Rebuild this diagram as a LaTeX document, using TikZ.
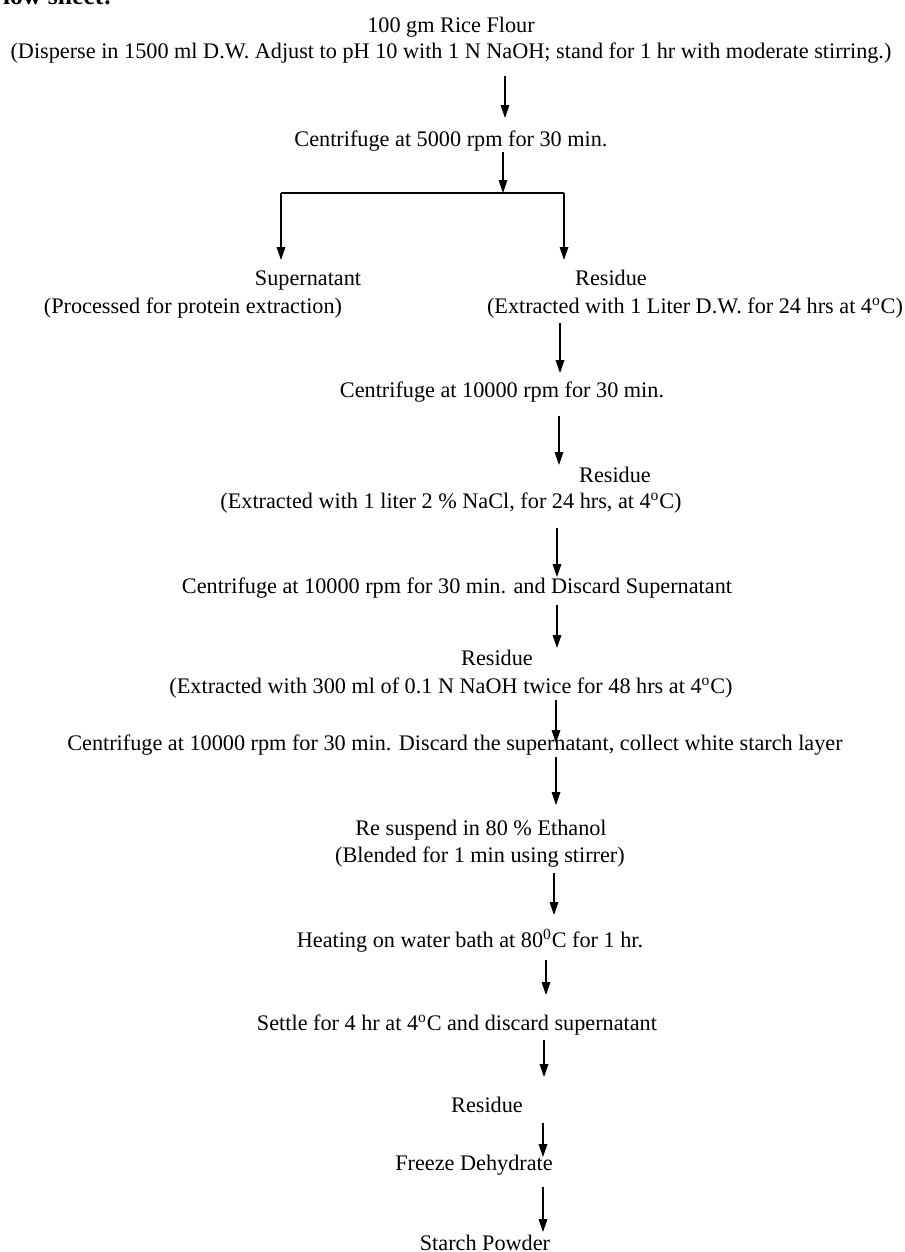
\documentclass[tikz,border=0pt]{standalone}
\usepackage{fontspec}
\setmainfont{Liberation Serif}
\usetikzlibrary{arrows.meta,calc}

\tikzset{
  txt/.style={anchor=base,inner sep=0pt,font=\fontsize{13}{15}\selectfont},
  arr/.style={-{Triangle[width=5pt,length=7.5pt]},line width=0.7pt}
}

\begin{document}
\begin{tikzpicture}[x=0.5848pt,y=-0.5848pt]
    \useasboundingbox (0,0) rectangle (905,1252);

    \node[txt,anchor=base west,font=\fontsize{15}{17}\selectfont\bfseries] (head) at (-13,4) {Flow sheet:};

    \node[txt] (flour) at (451,32) {100 gm Rice Flour};
    \node[txt] (flourb) at (451,58) {(Disperse in 1500 ml D.W. Adjust to pH 10 with 1 N NaOH; stand for 1 hr with moderate stirring.)};
    \node[txt] (cfa) at (451,146) {Centrifuge at 5000 rpm for 30 min.};
    \node[txt] (super) at (308,285) {Supernatant};
    \node[txt] (superb) at (193,313) {(Processed for protein extraction)};
    \node[txt] (resa) at (611,285) {Residue};
    \node[txt] (resab) at (695,313) {(Extracted with 1 Liter D.W. for 24 hrs at 4\textsuperscript{o}C)};
    \node[txt] (cfb) at (502,397) {Centrifuge at 10000 rpm for 30 min.};
    \node[txt] (resb) at (615,482) {Residue};
    \node[txt] (resbb) at (451,508) {(Extracted with 1 liter 2 \% NaCl, for 24 hrs, at 4\textsuperscript{o}C)};
    \node[txt] (cfc) at (457,593) {Centrifuge at 10000 rpm for 30 min. and Discard Supernatant};
    \node[txt] (resc) at (497,665) {Residue};
    \node[txt] (rescb) at (451,693) {(Extracted with 300 ml of 0.1 N NaOH twice for 48 hrs at 4\textsuperscript{o}C)};
    \node[txt] (cfd) at (455,750) {Centrifuge at 10000 rpm for 30 min. Discard the supernatant, collect white starch layer};
    \node[txt] (eth) at (481,835) {Re suspend in 80 \% Ethanol};
    \node[txt] (ethb) at (480,862) {(Blended for 1 min using stirrer)};
    \node[txt] (heat) at (470,947) {Heating on water bath at 80\textsuperscript{0}C for 1 hr.};
    \node[txt] (settle) at (457,1030) {Settle for 4 hr at 4\textsuperscript{o}C and discard supernatant};
    \node[txt] (resd) at (487,1112) {Residue};
    \node[txt] (freeze) at (474,1170) {Freeze Dehydrate};
    \node[txt] (powder) at (485,1250) {Starch Powder};

    \coordinate (split) at (503,193);
    \coordinate (bl) at (281,193);
    \coordinate (br) at (564,193);

    \draw[arr] ($(flourb.base -| 505,0)+(0,18)$) -- ($(cfa.base -| 505,0)+(0,-28)$);
    \draw[arr] ($(cfa.base -| split)+(0,6)$) -- (split);
    \draw[line width=0.7pt] (bl) -- (br);
    \draw[arr] (bl) -- ($(super.base -| bl)+(0,-25)$);
    \draw[arr] (br) -- ($(resa.base -| br)+(0,-25)$);

    \draw[arr] ($(resab.base -| 560,0)+(0,10)$) -- ($(cfb.base -| 560,0)+(0,-24)$);
    \draw[arr] ($(cfb.base -| 559,0)+(0,19)$) -- ($(resb.base -| 559,0)+(0,-17)$);
    \draw[arr] ($(resbb.base -| 557,0)+(0,20)$) -- ($(cfc.base -| 557,0)+(0,-16)$);
    \draw[arr] ($(cfc.base -| 557,0)+(0,12)$) -- ($(resc.base -| 557,0)+(0,-17)$);
    \draw[arr] ($(rescb.base -| 556,0)+(0,7)$) -- ($(cfd.base -| 556,0)+(0,-7)$);
    \draw[arr] ($(cfd.base -| 556,0)+(0,7)$) -- ($(eth.base -| 556,0)+(0,-30)$);
    \draw[arr] ($(ethb.base -| 554,0)+(0,11)$) -- ($(heat.base -| 554,0)+(0,-32)$);
    \draw[arr] ($(heat.base -| 546,0)+(0,13)$) -- ($(settle.base -| 546,0)+(0,-35)$);
    \draw[arr] ($(settle.base -| 544,0)+(0,10)$) -- ($(resd.base -| 544,0)+(0,-35)$);
    \draw[arr] ($(resd.base -| 543,0)+(0,11)$) -- ($(freeze.base -| 543,0)+(0,-13)$);
    \draw[arr] ($(freeze.base -| 543,0)+(0,17)$) -- ($(powder.base -| 543,0)+(0,-18)$);
  \end{tikzpicture}
\end{document}
